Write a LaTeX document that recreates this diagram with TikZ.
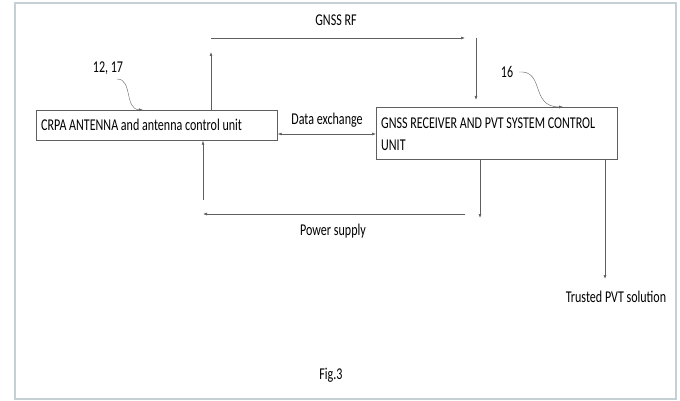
\documentclass[tikz,border=0pt]{standalone}
\usepackage{fontspec}
\setmainfont{Carlito}[FakeStretch=0.73]
\usetikzlibrary{arrows.meta}
\definecolor{framec}{RGB}{196,208,212}
\definecolor{linec}{RGB}{95,95,95}
\tikzset{
  blockbox/.style={draw=linec, line width=0.7pt, fill=white, inner sep=0pt, anchor=north west},
  conn/.style={draw=linec, line width=0.6pt, -{Latex[length=4pt,width=3pt]}},
  dconn/.style={draw=linec, line width=0.6pt, {Latex[length=4pt,width=3pt]}-{Latex[length=4pt,width=3pt]}},
  lbl/.style={font=\fontsize{16.5}{22}\selectfont, inner sep=0pt}
}
\begin{document}
\begin{tikzpicture}[x=1pt,y=-1pt]
\useasboundingbox (0,0) rectangle (680,401);
% outer frame
\draw[framec, line width=2.5pt] (15,3) rectangle (676,399);

% blocks
\node[blockbox, minimum width=241pt, minimum height=30pt] (crpa) at (36,110) {};
\node[lbl, anchor=west] at (41,125) {CRPA ANTENNA and antenna control unit};
\node[blockbox, minimum width=241pt, minimum height=52pt] (rcv) at (376,107) {};
\node[lbl, anchor=west, align=left] at (381,134) {GNSS RECEIVER AND PVT SYSTEM CONTROL\\UNIT};

% GNSS RF path
\coordinate (rfup) at (211,52);
\coordinate (rfa) at (211,38);
\coordinate (rfb) at (465,38);
\coordinate (rfc) at (476,38);
\coordinate (rfd) at (476,100);
\draw[conn] (crpa.north west -| rfup) -- (rfup);
\draw[conn] (rfa) -- (rfb);
\draw[conn] (rfc) -- (rfd);
\node[lbl] (rflbl) at (336,20) {GNSS RF};

% data exchange
\draw[dconn] (crpa.east |- 0,134) -- (rcv.west |- 0,134);
\node[lbl] (dxlbl) at (327,120) {Data exchange};

% power supply
\coordinate (pwa) at (203,200);
\coordinate (pwb) at (465,214);
\coordinate (pwc) at (203,214);
\coordinate (pwd) at (480,218);
\draw[conn] (pwa) -- (crpa.south west -| pwa);
\draw[conn] (pwb) -- (pwc);
\draw[conn] (rcv.south west -| pwd) -- (pwd);
\node[lbl] (pwlbl) at (333,231) {Power supply};

% trusted output
\coordinate (tpv) at (605,279);
\draw[conn] (rcv.south west -| tpv) -- (tpv);
\node[lbl] (tplbl) at (616,297) {Trusted PVT solution};

% reference numerals
\node[lbl] (n1217) at (108,68) {12, 17};
\draw[conn, line width=0.4pt] (117,79) .. controls (133,79) and (124,109) .. (crpa.north west -| 143,0);
\node[lbl] (n16) at (507,72) {16};
\draw[conn, line width=0.4pt] (519,72) .. controls (545,70) and (530,107) .. (rcv.north west -| 563,0);

% caption
\node[lbl] (fig) at (331,375) {Fig.3};
\end{tikzpicture}
\end{document}
